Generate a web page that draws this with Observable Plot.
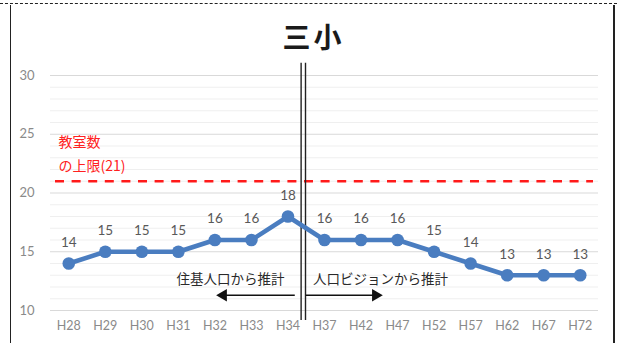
<!DOCTYPE html>
<html>
<head>
<meta charset="utf-8">
<script src="https://cdn.jsdelivr.net/npm/d3@7"></script>
<script src="https://cdn.jsdelivr.net/npm/@observablehq/plot@0.6"></script>
<style>
  body { margin: 0; background: #fff; }
  #wrap { position: relative; width: 617px; height: 343px; overflow: hidden; background: #fff; }
  #dash { position: absolute; left: 0; top: 3px; width: 617px; border-top: 1.5px dashed #222; }
  #box { position: absolute; left: 10px; top: 5px; width: 602px; height: 360px;
         border-left: 1.5px solid #222; border-right: 2px solid #222; }
  #title { position: absolute; left: 5px; width: 617px; top: 22px; text-align: center;
           font: bold 28px/1 "Noto Sans CJK JP", sans-serif; color: #1a1a1a; letter-spacing: 3px; }
  #chart { position: absolute; left: 0; top: 0; }
</style>
</head>
<body>
<div id="wrap">
  <div id="dash"></div>
  <div id="box"></div>
  <div id="chart"></div>
  <div id="title">三小</div>
</div>
<script>
// School years (Heisei) and projected number of classes
const years = ["H28","H29","H30","H31","H32","H33","H34","H37","H42","H47","H52","H57","H62","H67","H72"];
const classes = [14, 15, 15, 15, 16, 16, 18, 16, 16, 16, 15, 14, 13, 13, 13];

// Upper limit of available classrooms
const limit = 21;
const limitLabel = "教室数\nの上限(21)";

// Estimation method changes between these two years
const splitAfter = "H34";
const splitBefore = "H37";
const sourceLabels = ["住基人口から推計", "人口ビジョンから推計"];

const yTicks = [10, 15, 20, 25, 30];

const data = years.map((year, i) => ({i, year, value: classes[i]}));
const divider = (years.indexOf(splitAfter) + years.indexOf(splitBefore)) / 2;
const minor = d3.range(10, 31);

const blue = "#4a7dc0";
const textGray = "#595959";
const axisGray = "#8a8a8a";

// Arrow segments on either side of the divider
const arrowY = 11.3;
const labelY = 12.65;
const arrows = [
  {x1: divider - 0.3, x2: divider - 2.27, dir: -90, label: sourceLabels[0], tx: divider - 2.07},
  {x1: divider, x2: divider + 1.9, dir: 90, label: sourceLabels[1], tx: divider + 2.03}
];

const chart = Plot.plot({
  width: 617,
  height: 343,
  marginTop: 75,
  marginBottom: 33,
  marginLeft: 50,
  marginRight: 19,
  style: {fontFamily: "Lato, 'Noto Sans CJK JP', sans-serif", background: "transparent"},
  x: {type: "linear", domain: [-0.5, years.length - 0.5]},
  y: {domain: [10, 30]},
  marks: [
    // light grid at every class, darker at the labelled ticks
    Plot.ruleY(minor.filter(d => d % 5 !== 0), {stroke: "#efefef", strokeWidth: 1}),
    Plot.ruleY(yTicks, {stroke: "#d9d9d9", strokeWidth: 1}),
    Plot.axisY({ticks: yTicks, tickSize: 0, tickPadding: 16, fontSize: 13, fill: axisGray, label: null}),
    Plot.axisX({ticks: d3.range(years.length), tickFormat: i => years[i], tickSize: 0, tickPadding: 11,
                fontSize: 12.5, fill: axisGray, label: null}),
    // classroom limit
    Plot.ruleY([limit], {stroke: "#ff1a1a", strokeWidth: 2.4, strokeDasharray: "9,7.6", insetLeft: 5, insetRight: 5}),
    Plot.text([limitLabel], {frameAnchor: "left", y: limit, text: d => d, dx: 8, dy: -10,
      lineAnchor: "bottom", textAnchor: "start", lineHeight: 1.7, fontSize: 14, fill: "#ff2020",
      fontFamily: "'Noto Sans CJK JP', Lato, sans-serif"}),
    // divider between the two estimation periods
    Plot.ruleX([divider - 0.14, divider - 0.02], {y1: 9.15, y2: 31.05, stroke: "#222", strokeWidth: 1.4, clip: false}),
    // arrows and their labels
    Plot.ruleY(arrows, {x1: "x1", x2: "x2", y: arrowY, stroke: "#111", strokeWidth: 1.5}),
    Plot.dot(arrows, {x: "x2", y: arrowY, symbol: "triangle", rotate: "dir", r: 4.6, fill: "#111", stroke: null}),
    Plot.text(arrows, {x: "tx", y: labelY, text: "label", fontSize: 13.5, fill: "#2a2a2a",
      fontFamily: "'Noto Sans CJK JP', sans-serif"}),
    // projection line
    Plot.line(data, {x: "i", y: "value", stroke: blue, strokeWidth: 4.5}),
    Plot.dot(data, {x: "i", y: "value", r: 6.3, fill: blue, stroke: null}),
    Plot.text(data, {x: "i", y: "value", text: d => String(d.value), dy: -21, fontSize: 13.5, fill: textGray})
  ]
});
document.getElementById("chart").append(chart);
</script>
</body>
</html>
